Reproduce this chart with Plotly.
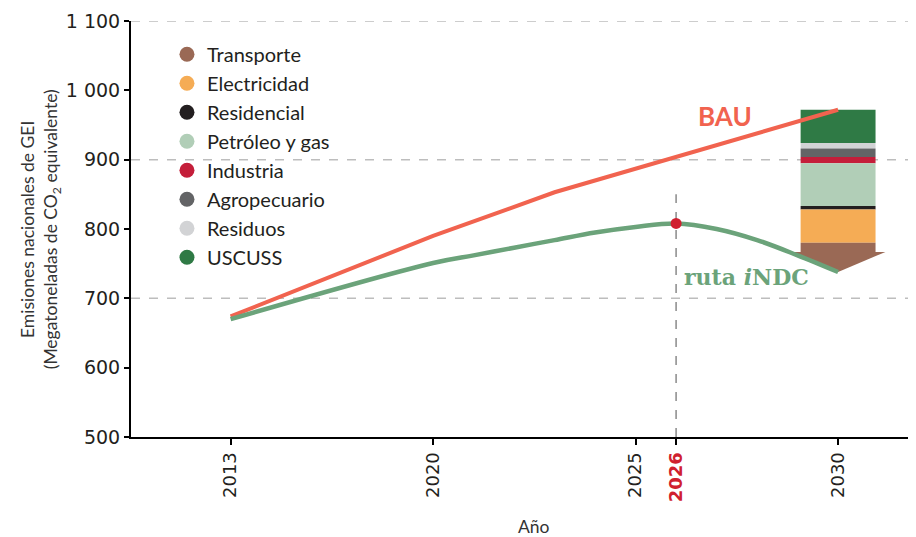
import plotly.graph_objects as go

# ---------------- data ----------------
bau_years = [2013, 2020, 2023, 2030]
bau_values = [674, 790, 853, 972]

indc_years = [2013, 2020, 2021, 2022, 2023, 2024, 2025, 2026, 2027, 2028, 2029, 2030]
indc_values = [670, 751, 762, 773, 784, 795, 803, 808, 800, 784, 762, 738]

peak_year = 2026
peak_value = 808

# reduction wedge at 2030, listed top (BAU) to bottom (iNDC)
sectors = ["USCUSS", "Residuos", "Agropecuario", "Industria",
           "Petróleo y gas", "Residencial", "Electricidad", "Transporte"]
sector_values = [48, 8, 12, 9, 62, 5, 48, 42]
legend_order = ["Transporte", "Electricidad", "Residencial", "Petróleo y gas",
                "Industria", "Agropecuario", "Residuos", "USCUSS"]
sector_colors = {
    "Transporte": "#9A6955",
    "Electricidad": "#F5AC55",
    "Residencial": "#231F20",
    "Petróleo y gas": "#B1CEB7",
    "Industria": "#C41E3A",
    "Agropecuario": "#636466",
    "Residuos": "#D2D3D5",
    "USCUSS": "#2F7A45",
}

tick_years = [2013, 2020, 2025, 2026, 2030]
tick_labels = ["2013", "2020", "2025",
               "<span style='color:#D0202F'><b>2026</b></span>", "2030"]
y_ticks = [500, 600, 700, 800, 900, 1000, 1100]
y_tick_labels = ["500", "600", "700", "800", "900", "1 000", "1 100"]
grid_values = [700, 900, 1100]

# ---------------- styling ----------------
RED = "#F1634F"
GREEN = "#6BA37A"
BAR_W = 1.85
ARROW_HALF = 1.17
ARROW_H = 29


def xpos(year):
    """Axis is compressed before 2020 (2013-2020 drawn over 5 units)."""
    if year >= 2020:
        return year
    return 2020 - (2020 - year) * 5 / 7


fig = go.Figure()

# stacked wedge
top = bau_values[-1]
bar_x = xpos(2030)
cum = top
bases = {}
for name, val in zip(sectors, sector_values):
    cum -= val
    bases[name] = (cum, val)

for name in sectors:
    base, val = bases[name]
    if name == "Transporte":
        fig.add_trace(go.Bar(x=[bar_x], y=[val - ARROW_H], base=[base + ARROW_H],
                             width=BAR_W, marker=dict(color=sector_colors[name], line_width=0),
                             showlegend=False, hoverinfo="skip"))
        fig.add_trace(go.Scatter(
            x=[bar_x - ARROW_HALF, bar_x + ARROW_HALF, bar_x, bar_x - ARROW_HALF],
            y=[base + ARROW_H, base + ARROW_H, base, base + ARROW_H],
            fill="toself", fillcolor=sector_colors[name], mode="lines",
            line=dict(width=0, color=sector_colors[name]),
            showlegend=False, hoverinfo="skip"))
    else:
        fig.add_trace(go.Bar(x=[bar_x], y=[val], base=[base], width=BAR_W,
                             marker=dict(color=sector_colors[name], line_width=0),
                             showlegend=False, hoverinfo="skip"))

# legend entries (circles)
for i, name in enumerate(legend_order):
    fig.add_trace(go.Scatter(x=[None], y=[None], mode="markers", name=name,
                             legendgroup="g%d" % i,
                             marker=dict(color=sector_colors[name], size=15, symbol="circle")))

# lines
fig.add_trace(go.Scatter(x=[xpos(y) for y in bau_years], y=bau_values, mode="lines",
                         line=dict(color=RED, width=4), showlegend=False))
fig.add_trace(go.Scatter(x=[xpos(y) for y in indc_years], y=indc_values, mode="lines",
                         line=dict(color=GREEN, width=4.5, shape="spline", smoothing=1),
                         showlegend=False))
fig.add_trace(go.Scatter(x=[xpos(peak_year)], y=[peak_value], mode="markers",
                         marker=dict(color="#D0202F", size=11), showlegend=False))

# grid lines
for g in grid_values:
    fig.add_hline(y=g, line=dict(color="#BDBDBD", width=1.5, dash="dash"), layer="below")

# vertical dashed line at 2026
fig.add_shape(type="line", x0=xpos(peak_year), x1=xpos(peak_year), y0=500, y1=850,
              xref="x", yref="y", line=dict(color="#8A8A8A", width=1.5, dash="dash"),
              layer="below")

fig.add_annotation(x=xpos(2027.2), y=963, text="<b>BAU</b>", showarrow=False,
                   font=dict(family="Lato", size=26, color=RED))
fig.add_annotation(x=xpos(2026.15), y=731, text="<b>ruta <i>i</i>NDC</b>", showarrow=False,
                   xanchor="left", yanchor="middle",
                   font=dict(family="DejaVu Serif", size=22, color=GREEN))

fig.add_annotation(x=-0.116, y=0.5, xref="paper", yref="paper", textangle=-90,
                   text="Emisiones nacionales de GEI<br>(Megatoneladas de CO<sub>2</sub> equivalente)",
                   showarrow=False, xanchor="center", yanchor="middle",
                   font=dict(family="Lato", size=17.5, color="#333333"))
fig.add_annotation(x=0.515, y=-0.216, xref="paper", yref="paper", text="Año",
                   showarrow=False, xanchor="center", yanchor="middle",
                   font=dict(family="Lato", size=17.5, color="#333333"))

fig.update_layout(
    width=908, height=529,
    margin=dict(l=123, r=3, t=13, b=100),
    paper_bgcolor="white", plot_bgcolor="white",
    barmode="overlay",
    showlegend=True,
    legend=dict(x=0.046, y=0.967, xanchor="left", yanchor="top",
                bgcolor="rgba(0,0,0,0)", tracegroupgap=0,
                font=dict(family="Lato", size=20, color="#231F20")),
    xaxis=dict(range=[2012.54, 2031.85], tickvals=[xpos(y) for y in tick_years],
               ticktext=tick_labels, tickangle=-90, showgrid=False, zeroline=False,
               showline=True, linecolor="black", linewidth=2,
               ticks="outside", ticklen=6, tickwidth=2, tickcolor="black",
               tickfont=dict(family="DejaVu Sans", size=18, color="#231F20")),
    yaxis=dict(range=[500, 1100], tickvals=y_ticks, ticktext=y_tick_labels,
               showgrid=False, zeroline=False,
               showline=True, linecolor="black", linewidth=2,
               ticks="outside", ticklen=5, tickwidth=2, tickcolor="black",
               tickfont=dict(family="DejaVu Sans", size=19, color="#231F20")),
)

fig.write_html("out.html")
